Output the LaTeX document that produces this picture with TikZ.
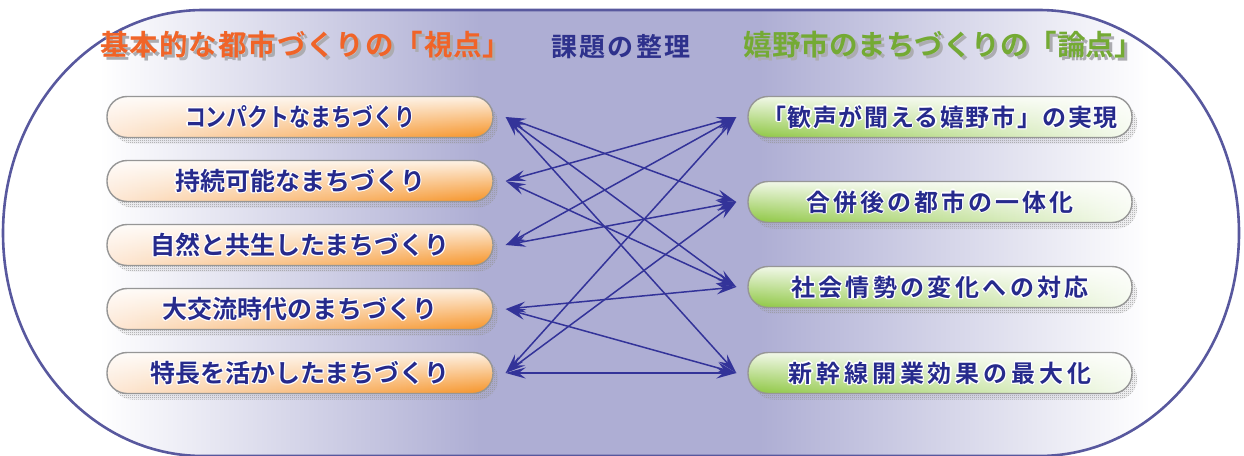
\documentclass[tikz,border=0pt]{standalone}
\usepackage{fontspec}
\usepackage{graphicx}
\usetikzlibrary{arrows.meta,fadings,patterns.meta,shadows}
\newfontfamily\jpb{Noto Sans CJK JP Bold}
\definecolor{boxtext}{RGB}{38,42,140}
\definecolor{arrowc}{RGB}{51,51,153}
\definecolor{lav}{RGB}{174,174,212}
\definecolor{rim}{RGB}{88,88,158}
\definecolor{torange}{RGB}{240,100,40}
\definecolor{tgreen}{RGB}{116,170,52}
\definecolor{tnavy}{RGB}{46,49,140}
\definecolor{tshadow}{RGB}{172,172,176}
\definecolor{bor}{RGB}{150,150,150}
\definecolor{opale}{RGB}{253,232,214}
\definecolor{oorange}{RGB}{246,146,36}
\definecolor{ggreen}{RGB}{140,198,63}
\pgfdeclarehorizontalshading{bgsh}{100bp}{color(0bp)=(white); color(28.9bp)=(white); color(44.3bp)=(lav); color(55.6bp)=(lav); color(71.4bp)=(white); color(100bp)=(white)}
\pgfdeclarepattern{
  name=finecheck,
  type=uncolored,
  bottom left={\pgfpoint{0pt}{0pt}},
  top right={\pgfpoint{2pt}{2pt}},
  tile size={\pgfpoint{2pt}{2pt}},
  code={\pgfpathrectangle{\pgfpoint{0pt}{0pt}}{\pgfpoint{1pt}{1pt}}%
        \pgfpathrectangle{\pgfpoint{1pt}{1pt}}{\pgfpoint{1pt}{1pt}}%
        \pgfusepath{fill}}
}
\newcommand\halo[1]{{\setbox0=\hbox{#1}%
 \rlap{\color{white}%
  \rlap{\kern1.3pt\copy0}\rlap{\kern-1.3pt\copy0}%
  \rlap{\raise1.3pt\copy0}\rlap{\lower1.3pt\copy0}%
  \rlap{\kern.92pt\raise.92pt\copy0}\rlap{\kern.92pt\lower.92pt\copy0}%
  \rlap{\kern-.92pt\raise.92pt\copy0}\rlap{\kern-.92pt\lower.92pt\copy0}}%
 \color{boxtext}\box0}}
\newcommand\shad[2]{{\setbox0=\hbox{#2}\rlap{\color{tshadow}\kern3pt\lower3.5pt\copy0}\color{#1}\box0}}
\newcommand\lsize{\jpb\fontsize{25pt}{30pt}\selectfont}
\newcommand\rsize{\jpb\fontsize{24pt}{29pt}\selectfont}
\tikzset{
  boxbase/.style={draw=bor, line width=1.4pt, rounded corners=20pt,
    minimum height=41pt, inner sep=0pt,
    drop shadow={shadow xshift=5pt, shadow yshift=-6pt, opacity=1,
      pattern=finecheck, pattern color=gray!85},
    path picture={\fill[white, fill opacity=0.88, path fading=south]
      (path picture bounding box.north west) rectangle (path picture bounding box.south east);}},
  lbox/.style={boxbase, minimum width=386pt, left color=opale, right color=oorange},
  rbox/.style={boxbase, minimum width=384pt, left color=ggreen, right color=ggreen!8},
  arr/.style={draw=arrowc, line width=1.5pt,
    {Stealth[length=20pt,width=11pt,inset=7pt]}-{Stealth[length=20pt,width=11pt,inset=7pt]}},
  title/.style={anchor=base, inner sep=0pt}
}
\begin{document}
\begin{tikzpicture}[x=1pt,y=-1pt]
\useasboundingbox (0,0) rectangle (1244,455);
% background stadium
\draw[rim, line width=2.6pt, shading=bgsh]
  (203,10) -- (1039,10)
  arc[start angle=90, end angle=-90, x radius=200pt, y radius=223pt]
  -- (203,456)
  arc[start angle=270, end angle=90, x radius=200pt, y radius=223pt]
  -- cycle;
% titles
\node[title] (T1) at (306,55) {\jpb\fontsize{28.5pt}{32pt}\selectfont\addfontfeature{LetterSpace=3.2}\shad{torange}{基本的な都市づくりの「視点」}};
\node[title] (T2) at (621,56) {\jpb\fontsize{26pt}{30pt}\selectfont\addfontfeature{LetterSpace=8}\color{tnavy}課題の整理};
\node[title] (T3) at (943,55) {\jpb\fontsize{28.5pt}{32pt}\selectfont\shad{tgreen}{嬉野市のまちづくりの「論点」}};
% left boxes
\node[lbox] (L1) at (300,117) {\lsize\resizebox{230pt}{\height}{\halo{コンパクトなまちづくり}}};
\node[lbox] (L2) at (300,181) {\lsize\halo{持続可能なまちづくり}};
\node[lbox] (L3) at (300,245) {\lsize\halo{自然と共生したまちづくり}};
\node[lbox] (L4) at (300,309) {\lsize\halo{大交流時代のまちづくり}};
\node[lbox] (L5) at (300,373) {\lsize\halo{特長を活かしたまちづくり}};
% right boxes
\node[rbox] (R1) at (940,117) {\rsize\addfontfeature{LetterSpace=6.5}\halo{「歓声が聞える嬉野市」の実現}};
\node[rbox] (R2) at (940,202) {\rsize\addfontfeature{LetterSpace=12.5}\halo{合併後の都市の一体化}};
\node[rbox] (R3) at (940,287) {\rsize\addfontfeature{LetterSpace=14}\halo{社会情勢の変化への対応}};
\node[rbox] (R4) at (940,373) {\rsize\addfontfeature{LetterSpace=16}\halo{新幹線開業効果の最大化}};
% arrow end points
\foreach \i in {1,...,5} {\coordinate (a\i) at ([xshift=12pt]L\i.east);}
\foreach \j in {1,...,4} {\coordinate (b\j) at ([xshift=-11pt]R\j.west);}
% connectors
\draw[arr] (a1) -- (b2);
\draw[arr] (a1) -- (b3);
\draw[arr] (a1) -- (b4);
\draw[arr] (a2) -- (b1);
\draw[arr] (a2) -- (b3);
\draw[arr] (a3) -- (b1);
\draw[arr] (a3) -- (b2);
\draw[arr] (a4) -- (b3);
\draw[arr] (a4) -- (b4);
\draw[arr] (a5) -- (b1);
\draw[arr] (a5) -- (b2);
\draw[arr] (a5) -- (b4);
\end{tikzpicture}
\end{document}
